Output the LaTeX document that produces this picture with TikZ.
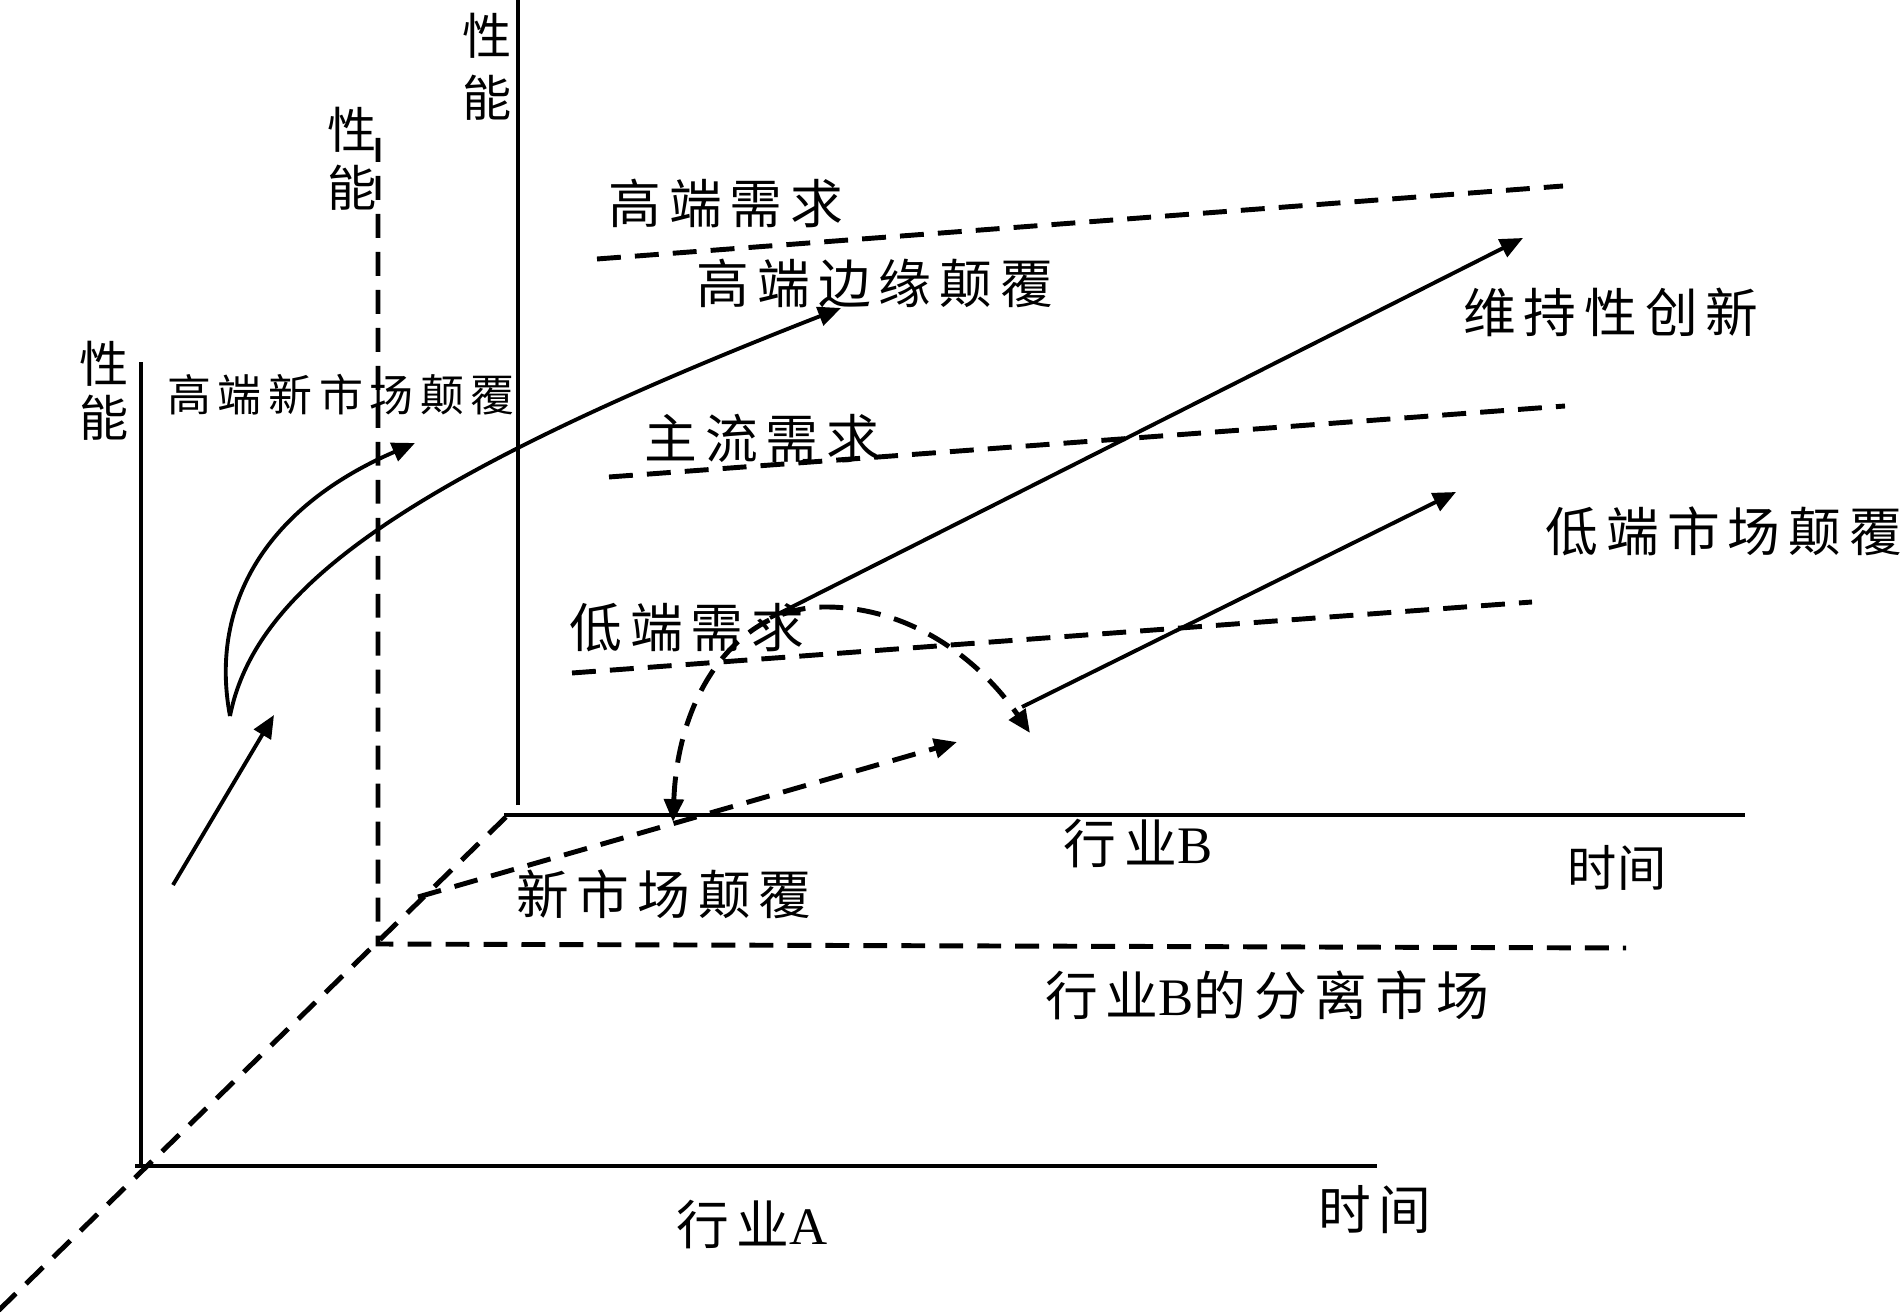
\documentclass[tikz,border=0pt]{standalone}
\usepackage{fontspec}
\newfontfamily\cjk[LetterSpace=15]{Noto Sans CJK SC}
\newfontfamily\cjkhei{Noto Sans CJK SC}
\newfontfamily\lat{Liberation Serif}
\usetikzlibrary{arrows.meta}
\begin{document}
\begin{tikzpicture}[x=0.01cm, y=-0.01cm, line width=1.1pt,
  >={Triangle[length=6.5pt,width=5.5pt]},
  dashln/.style={line width=1.4pt, dash pattern=on 6.8pt off 4pt},
  lbl/.style={inner sep=0pt, font=\cjk\fontsize{15}{18}\selectfont},
  lblsm/.style={inner sep=0pt, font=\cjk\fontsize{12.5}{15}\selectfont},
  vlbl/.style={inner sep=0pt, align=center, font=\cjkhei\fontsize{14}{#1}\selectfont}]
\useasboundingbox (0,0) rectangle (1900,1313);
\coordinate (a0) at (141,1166);
\coordinate (a1) at (141,362);
\coordinate (a2) at (135,1166);
\coordinate (a3) at (1377,1166);
\draw (a0) -- (a1);
\draw (a2) -- (a3);
\coordinate (m0) at (378,944);
\coordinate (m1) at (378,138);
\coordinate (m2) at (1626,948);
\draw[dashln] (m1) -- (m0) -- (m2);
\coordinate (b0) at (518,805);
\coordinate (b1) at (518,0);
\coordinate (b2) at (504,815);
\coordinate (b3) at (1745,815);
\draw (b0) -- (b1);
\draw (b2) -- (b3);
\coordinate (d0) at (506,817);
\coordinate (d1) at (-2,1311);
\draw[dashln] (d0) -- (d1);
\coordinate (h0) at (597,259);
\coordinate (h1) at (1563,186);
\coordinate (z0) at (609,477);
\coordinate (z1) at (1565,406);
\coordinate (l0) at (572,673);
\coordinate (l1) at (1532,602);
\draw[dashln] (h0) -- (h1);
\draw[dashln] (z0) -- (z1);
\draw[dashln] (l0) -- (l1);
\coordinate (s0) at (770,618);
\coordinate (s1) at (1523,238);
\coordinate (e0) at (1022,707);
\coordinate (e1) at (1456,492);
\coordinate (t0) at (173,885);
\coordinate (t1) at (274,715);
\draw[->] (s0) -- (s1);
\draw[->] (e0) -- (e1);
\draw[->] (t0) -- (t1);
\coordinate (c0) at (230,716);
\coordinate (c1) at (415,443);
\coordinate (c2) at (841,308);
\draw[->] (c0) .. controls (210,610) and (260,510) .. (c1);
\draw[->] (c0) .. controls (255,590) and (400,480) .. (c2);
\coordinate (n0) at (418,897);
\coordinate (n1) at (957,742);
\draw[dashln, ->] (n0) -- (n1);
\coordinate (r0) at (673,822);
\coordinate (r1) at (823,607);
\coordinate (r2) at (1030,733);
\draw[dashln, <->] (r0) .. controls (678,690) and (740,608) .. (r1) .. controls (910,606) and (980,660) .. (r2);
\node[vlbl=17.6] (pf0) at (487,67) {性\\能};
\node[vlbl=16.5] (pf1) at (352,159) {性\\能};
\node[vlbl=15.4] (pf2) at (104,391) {性\\能};
\node[lbl] (q0) at (726,203) {高端需求};
\node[lbl] (q1) at (875,283) {高端边缘颠覆};
\node[lbl] (q2) at (1611,312) {维持性创新};
\node[lblsm] (q3) at (341,395) {高端新市场颠覆};
\node[lbl] (q4) at (762,439) {主流需求};
\node[lbl] (q5) at (1724,531) {低端市场颠覆};
\node[lbl] (q6) at (687,628) {低端需求};
\node[lbl] (q7) at (1138,844) {行业{\lat B}};
\node[inner sep=0pt, font=\cjkhei\fontsize{14}{17}\selectfont] (q8) at (1617,868) {时间};
\node[lbl] (q9) at (664,894) {新市场颠覆};
\node[lbl] (q10) at (1267,995) {行业{\lat B}的分离市场};
\node[lbl] (q11) at (1375,1210) {时间};
\node[lbl] (q12) at (752,1225) {行业{\lat A}};
\end{tikzpicture}
\end{document}
